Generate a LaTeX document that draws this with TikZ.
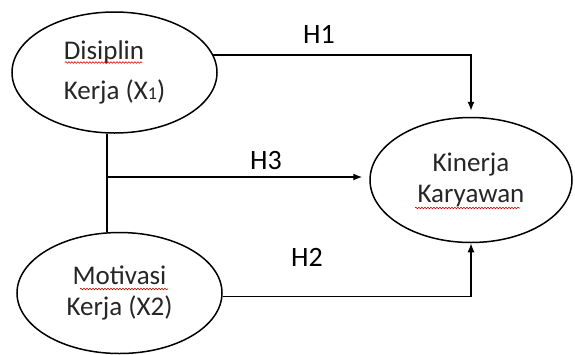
\documentclass[tikz,border=0pt]{standalone}
\usepackage{fontspec}
\setmainfont{Carlito}
\usepackage{tikz}
\usetikzlibrary{shapes, arrows.meta, positioning, calc, decorations.pathmorphing}

\begin{document}
\begin{tikzpicture}[x=1pt, y=-1pt,
    var/.style={draw, ellipse, line width=1.5pt, minimum width=205pt, minimum height=121pt,
        inner sep=0pt, align=center, text=black!85, font=\fontsize{27}{31}\selectfont},
    panah/.style={line width=1.3pt, -{Latex[length=9pt,width=7pt]}},
    garis/.style={line width=1.3pt},
    salah/.style={red!85!black, line width=0.6pt, decorate,
        decoration={snake, amplitude=0.8pt, segment length=3pt}},
    hip/.style={font=\fontsize{28}{28}\selectfont}]
    \useasboundingbox (0,0) rectangle (575,354);
    % Variabel bebas
    \node[var, align=left, font=\fontsize{27}{40}\selectfont] (X1) at (114.5,72.5)
        {Disiplin\\Kerja (X{\fontsize{18}{18}\selectfont 1})};
    \node[var] (X2) at (119.5,293) {Motivasi\\Kerja (X2)};
    % Variabel terikat
    \node[var, minimum width=202pt, minimum height=125pt] (Y) at (471,180) {Kinerja\\Karyawan};
    % Garis bawah merah
    \draw[salah] ($(X1)+(-49.5,-10)$) -- ++(77,0);
    \draw[salah] ($(X2)+(-39.5,-4)$) -- ++(88,0);
    \draw[salah] ($(Y)+(-56,28)$) -- ++(105,0);
    % H1
    \draw[panah, shorten >=6pt] (X1.10) -| (Y.north);
    \node[hip] (h1) at (319,34) {H1};
    % H2
    \draw[panah] (X2.-2) -| (Y.south);
    \node[hip] (h2) at (307,257) {H2};
    % H3
    \coordinate (cab) at (107,177);
    \draw[garis] (X1.south -| cab) -- (X2.north -| cab);
    \draw[panah, shorten >=7pt] (cab) -- (cab -| Y.west);
    \node[hip] (h3) at (266,161) {H3};
\end{tikzpicture}
\end{document}
